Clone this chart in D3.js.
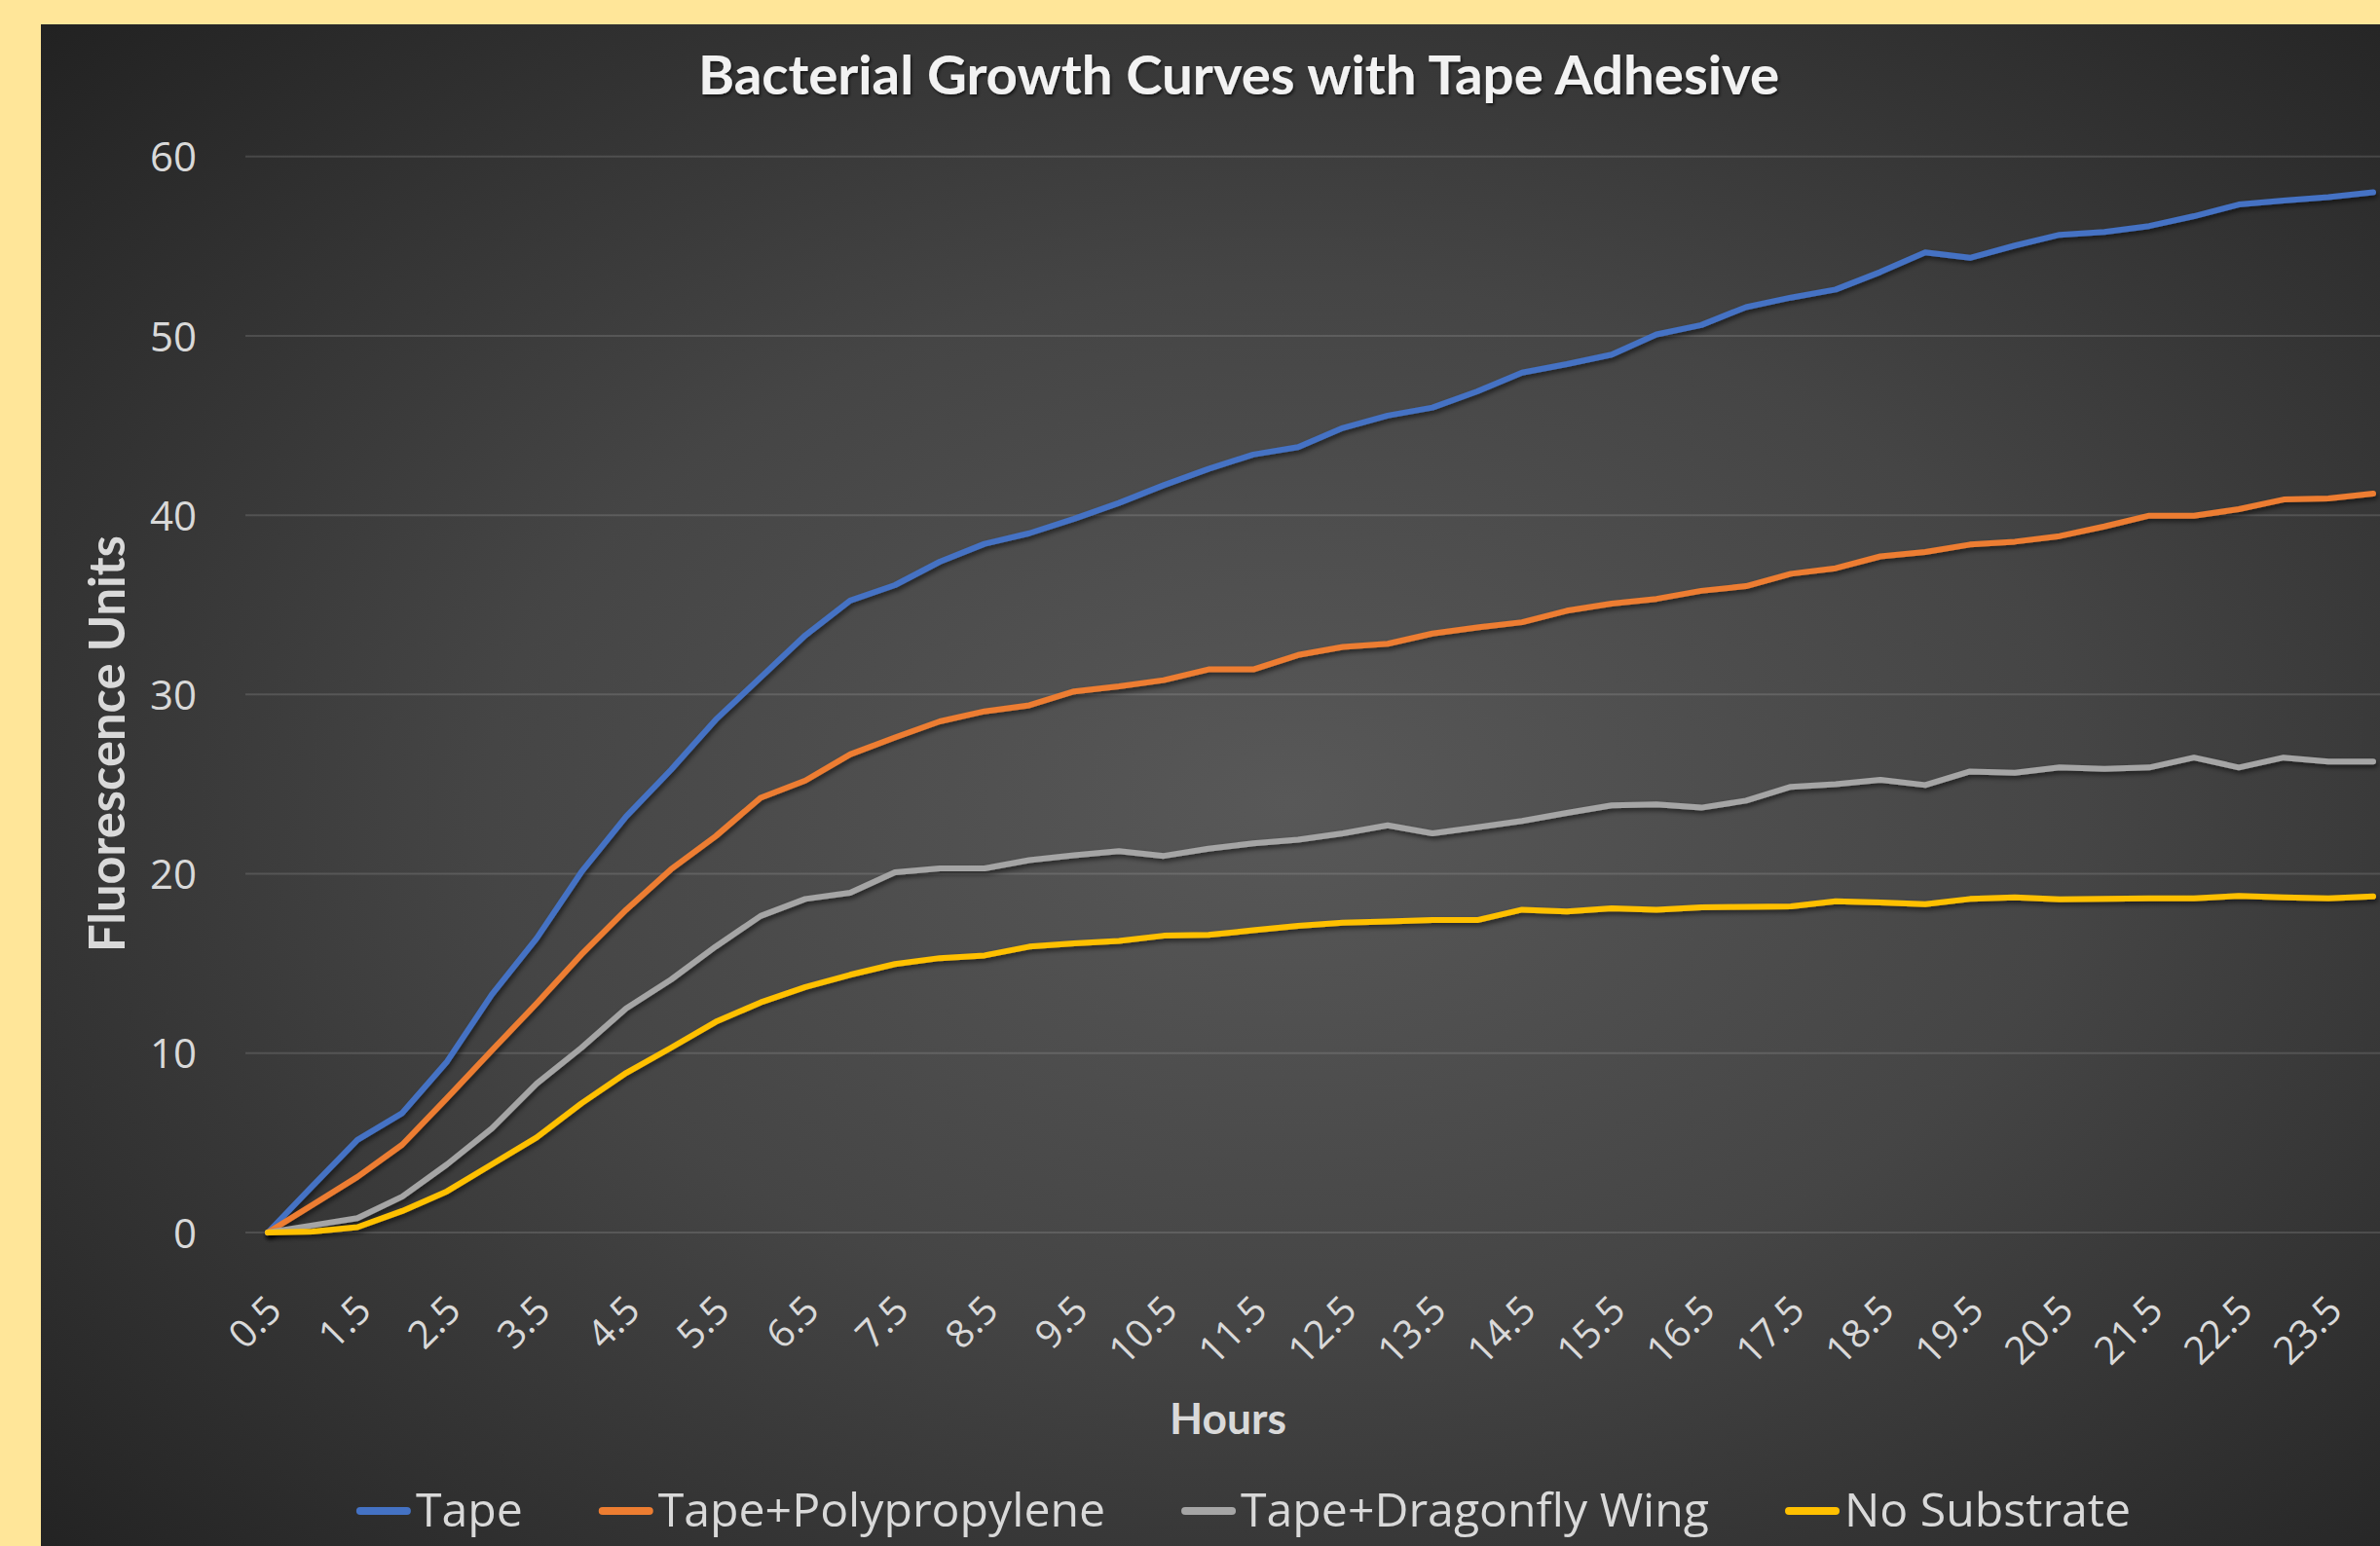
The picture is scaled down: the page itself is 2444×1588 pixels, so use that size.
<!DOCTYPE html>
<html>
<head>
<meta charset="utf-8">
<script src="https://cdn.jsdelivr.net/npm/d3@7"></script>
<style>
  html, body { margin: 0; padding: 0; background: #FFE699; overflow: hidden; }
  svg { display: block; }
</style>
</head>
<body>
<svg id="chart" width="2444" height="1588"></svg>
<script>
// ---------------- DATA ----------------
const hours = ["0.5","1","1.5","2","2.5","3","3.5","4","4.5","5","5.5","6","6.5","7","7.5","8",
  "8.5","9","9.5","10","10.5","11","11.5","12","12.5","13","13.5","14","14.5","15","15.5","16",
  "16.5","17","17.5","18","18.5","19","19.5","20","20.5","21","21.5","22","22.5","23","23.5","24"];
const tickLabels = ["0.5","1.5","2.5","3.5","4.5","5.5","6.5","7.5","8.5","9.5","10.5","11.5",
  "12.5","13.5","14.5","15.5","16.5","17.5","18.5","19.5","20.5","21.5","22.5","23.5"];
const yTicks = [0, 10, 20, 30, 40, 50, 60];

const tape = [0, 2.6, 5.16, 6.66, 9.53, 13.27, 16.4, 20.1, 23.2, 25.8,
  28.6, 30.95, 33.3, 35.24, 36.1, 37.4, 38.4, 38.99, 39.8, 40.68,
  41.67, 42.58, 43.38, 43.79, 44.86, 45.55, 46.0, 46.9, 47.95, 48.42,
  48.95, 50.08, 50.6, 51.6, 52.13, 52.58, 53.56, 54.65, 54.35, 55.03,
  55.63, 55.79, 56.12, 56.67, 57.32, 57.54, 57.73, 58.0];
const tapePolypropylene = [0, 1.55, 3.1, 4.9, 7.5, 10.15, 12.77, 15.5, 18.0, 20.25,
  22.1, 24.24, 25.2, 26.66, 27.6, 28.5, 29.06, 29.4, 30.17, 30.45,
  30.8, 31.4, 31.4, 32.2, 32.65, 32.83, 33.4, 33.74, 34.03, 34.67,
  35.07, 35.33, 35.78, 36.04, 36.73, 37.04, 37.7, 37.94, 38.36, 38.52,
  38.83, 39.37, 39.97, 39.97, 40.33, 40.87, 40.93, 41.2];
const tapeDragonflyWing = [0, 0.4, 0.8, 2.0, 3.8, 5.8, 8.3, 10.3, 12.5, 14.1,
  15.95, 17.65, 18.6, 18.94, 20.08, 20.3, 20.3, 20.76, 21.03, 21.27,
  21.0, 21.4, 21.7, 21.9, 22.26, 22.7, 22.26, 22.6, 22.95, 23.4,
  23.82, 23.87, 23.69, 24.08, 24.85, 25.0, 25.24, 24.95, 25.71, 25.63,
  25.93, 25.85, 25.93, 26.48, 25.93, 26.48, 26.26, 26.26];
const noSubstrate = [0, 0.05, 0.3, 1.2, 2.3, 3.8, 5.3, 7.2, 8.9, 10.3,
  11.75, 12.83, 13.69, 14.37, 14.97, 15.3, 15.45, 15.94, 16.12, 16.26,
  16.55, 16.6, 16.85, 17.1, 17.28, 17.35, 17.42, 17.42, 18.0, 17.9,
  18.08, 18.0, 18.13, 18.16, 18.18, 18.47, 18.4, 18.31, 18.6, 18.69,
  18.58, 18.6, 18.63, 18.63, 18.77, 18.69, 18.63, 18.74];

const seriesNames = ["Tape", "Tape+Polypropylene", "Tape+Dragonfly Wing", "No Substrate"];
const seriesValues = [tape, tapePolypropylene, tapeDragonflyWing, noSubstrate];
const seriesColors = ["#4472C4", "#ED7D31", "#A5A5A5", "#FFC000"];

const titleText = "Bacterial Growth Curves with Tape Adhesive";
const yTitleText = "Fluorescence Units";
const xTitleText = "Hours";

// ---------------- LAYOUT ----------------
const svg = d3.select("#chart");
const chartBox = { x: 42, y: 25, w: 2460, h: 1600 };
const plot = { left: 252, right: 2460, top: 160.7, bottom: 1266 };
const step = (plot.right - plot.left) / hours.length;

const x = d3.scalePoint().domain(hours)
  .range([plot.left + step / 2, plot.right - step / 2]);
const y = d3.scaleLinear().domain([0, 60]).range([plot.bottom, plot.top]);

const defs = svg.append("defs");
const grad = defs.append("radialGradient").attr("id", "bg")
  .attr("cx", 0.52).attr("cy", 0.5).attr("r", 0.74);
grad.append("stop").attr("offset", 0).attr("stop-color", "#585858");
grad.append("stop").attr("offset", 0.45).attr("stop-color", "#454545");
grad.append("stop").attr("offset", 1).attr("stop-color", "#202020");

const lineShadow = defs.append("filter").attr("id", "lshadow")
  .attr("x", "-5%").attr("y", "-5%").attr("width", "110%").attr("height", "110%");
lineShadow.append("feDropShadow").attr("dx", 2).attr("dy", 3).attr("stdDeviation", 2.5)
  .attr("flood-color", "#000").attr("flood-opacity", 0.55);
const textShadow = defs.append("filter").attr("id", "tshadow")
  .attr("x", "-10%").attr("y", "-30%").attr("width", "120%").attr("height", "160%");
textShadow.append("feDropShadow").attr("dx", 1.5).attr("dy", 2).attr("stdDeviation", 1.5)
  .attr("flood-color", "#000").attr("flood-opacity", 0.6);

svg.append("rect").attr("x", chartBox.x).attr("y", chartBox.y)
  .attr("width", chartBox.w).attr("height", chartBox.h).attr("fill", "url(#bg)");

function fitWidth(sel, target, start) {
  sel.style("font-size", start + "px");
  const w = sel.node().getComputedTextLength();
  const s = start * target / w;
  sel.style("font-size", s + "px");
  return s;
}

// Gridlines
const grid = svg.append("g");
grid.selectAll("line").data(yTicks).join("line")
  .attr("x1", plot.left).attr("x2", plot.right)
  .attr("y1", d => y(d)).attr("y2", d => y(d))
  .attr("stroke", "rgba(255,255,255,0.13)").attr("stroke-width", 2);

// Y axis
const yAxis = svg.append("g").attr("transform", `translate(${plot.left - 50},0)`)
  .call(d3.axisLeft(y).tickValues(yTicks).tickSize(0).tickPadding(0));
yAxis.select(".domain").remove();
yAxis.selectAll("text")
  .attr("fill", "#D9D9D9").attr("font-family", "'Open Sans', sans-serif")
  .attr("font-size", 42).attr("dy", "0.36em");

// X axis
const xAxis = svg.append("g").attr("transform", `translate(0,${plot.bottom})`)
  .call(d3.axisBottom(x).tickValues(tickLabels).tickSize(0).tickPadding(0));
xAxis.select(".domain").remove();
xAxis.selectAll(".tick text")
  .attr("fill", "#D9D9D9").attr("font-family", "'Open Sans', sans-serif")
  .attr("font-size", 40)
  .attr("text-anchor", "end")
  .attr("y", 0).attr("dy", 0)
  .attr("transform", "translate(16,82) rotate(-45)");

// Lines
const line = d3.line().x((d, i) => x(hours[i])).y(d => y(d));
svg.append("g").selectAll("path").data(seriesValues).join("path")
  .attr("d", d => line(d))
  .attr("fill", "none")
  .attr("stroke", (d, i) => seriesColors[i])
  .attr("stroke-width", 6)
  .attr("stroke-linejoin", "round")
  .attr("stroke-linecap", "round")
  .attr("filter", "url(#lshadow)");

// Title
const title = svg.append("text").text(titleText)
  .attr("x", 1272).attr("y", 97).attr("text-anchor", "middle")
  .attr("fill", "#F2F2F2").attr("font-family", "Lato, sans-serif").attr("font-weight", 700)
  .attr("filter", "url(#tshadow)");
fitWidth(title, 1110, 50);

// Y title
const yTitle = svg.append("text").text(yTitleText)
  .attr("transform", "translate(128,764) rotate(-90)").attr("text-anchor", "middle")
  .attr("fill", "#D9D9D9").attr("font-family", "Lato, sans-serif").attr("font-weight", 700);
fitWidth(yTitle, 428, 50);

// X title
const xTitle = svg.append("text").text(xTitleText)
  .attr("x", 1261).attr("y", 1473).attr("text-anchor", "middle")
  .attr("fill", "#D9D9D9").attr("font-family", "Lato, sans-serif").attr("font-weight", 700);
fitWidth(xTitle, 120, 42);

// Legend
const legend = svg.append("g");
const legendBaseline = 1568;
const markerLen = 56, markerGap = 5, itemGap = 78;
const items = legend.selectAll("g").data(seriesNames).join("g");
items.append("line")
  .attr("stroke", (d, i) => seriesColors[i]).attr("stroke-width", 8)
  .attr("stroke-linecap", "round");
const ltexts = items.append("text").text(d => d)
  .attr("fill", "#D9D9D9").attr("font-family", "'Open Sans', sans-serif");
// size legend text so the longest entry matches the reference width
const lsize = fitWidth(d3.select(ltexts.nodes()[2]), 481, 44);
ltexts.style("font-size", lsize + "px");
const widths = ltexts.nodes().map(n => n.getComputedTextLength());
const total = d3.sum(widths) + seriesNames.length * (markerLen + markerGap) + (seriesNames.length - 1) * itemGap;
let cx = 1277 - total / 2;
items.each(function (d, i) {
  const g = d3.select(this);
  g.select("line").attr("x1", cx + 4).attr("x2", cx + markerLen - 4)
    .attr("y1", legendBaseline - 16).attr("y2", legendBaseline - 16);
  g.select("text").attr("x", cx + markerLen + markerGap).attr("y", legendBaseline);
  cx += markerLen + markerGap + widths[i] + itemGap;
});
</script>
</body>
</html>
